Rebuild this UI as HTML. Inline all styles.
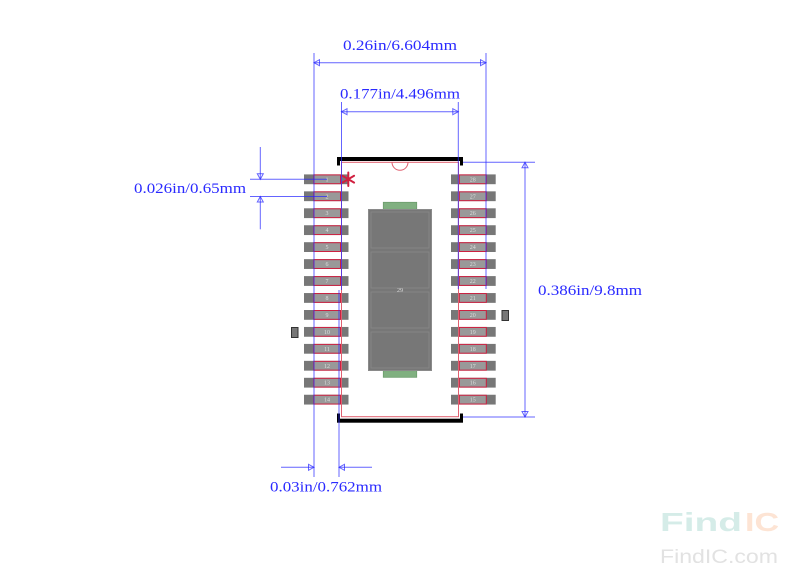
<!DOCTYPE html>
<html><head><meta charset="utf-8"><style>
html,body{margin:0;padding:0;background:#fff;}
svg{display:block;}
</style></head><body>
<svg width="800" height="583" viewBox="0 0 800 583" xmlns="http://www.w3.org/2000/svg">
<rect width="800" height="583" fill="#fff"/>

<!-- watermark -->
<text x="660" y="531" font-family="Liberation Sans, sans-serif" font-weight="bold" font-size="26" fill="#d5ece8" textLength="82" lengthAdjust="spacingAndGlyphs">Find</text>
<text x="745" y="531" font-family="Liberation Sans, sans-serif" font-weight="bold" font-size="26" fill="#fde4d4" textLength="34" lengthAdjust="spacingAndGlyphs">IC</text>
<text x="660" y="563" font-family="Liberation Sans, sans-serif" font-size="19" fill="#e2e2e2" textLength="118" lengthAdjust="spacingAndGlyphs">FindIC.com</text>

<!-- center pad -->
<rect x="383.3" y="202.3" width="33.4" height="7" fill="#80b080" stroke="#6c9c6c" stroke-width="0.8"/>
<rect x="383.3" y="370.7" width="33.4" height="6.6" fill="#80b080" stroke="#6c9c6c" stroke-width="0.8"/>
<rect x="368.5" y="209.5" width="63" height="161" fill="#777" stroke="#8a8a8a" stroke-width="1"/>
<g fill="none" stroke="#858585" stroke-width="1">
<rect x="371" y="212" width="58" height="36"/>
<rect x="371" y="252" width="58" height="36"/>
<rect x="371" y="292" width="58" height="36"/>
<rect x="371" y="332" width="58" height="36"/>
</g>
<text x="400" y="292" font-family="Liberation Serif, serif" font-size="6" fill="#ddd" text-anchor="middle">29</text>

<!-- side markers -->
<rect x="291.5" y="327.5" width="6.5" height="10" fill="#777" stroke="#333" stroke-width="1"/>
<rect x="502" y="310.5" width="6.5" height="10" fill="#777" stroke="#333" stroke-width="1"/>

<!-- pads -->
<g id="pads" font-family="Liberation Serif, serif" font-size="6" fill="#ddd" text-anchor="middle">
</g>

<!-- body outline red -->
<rect x="341.5" y="162.3" width="117" height="254.4" fill="none" stroke="#e06070" stroke-width="1"/>
<path d="M392 162.3 A8 8 0 0 0 408 162.3" fill="none" stroke="#e06070" stroke-width="1"/>

<!-- black outline brackets -->
<g fill="#000">
<rect x="337" y="157" width="126" height="4"/>
<rect x="337" y="157" width="3" height="8.5"/>
<rect x="460" y="157" width="3" height="8.5"/>
<rect x="337" y="418.7" width="126" height="4"/>
<rect x="337" y="413.5" width="3" height="9"/>
<rect x="460" y="413.5" width="3" height="9"/>
</g>

<!-- asterisk -->
<g stroke="#d02040" stroke-width="2" stroke-linecap="round">
<line x1="348.3" y1="172.5" x2="348.3" y2="186"/>
<line x1="342.5" y1="175.8" x2="354.1" y2="182.6"/>
<line x1="342.5" y1="182.6" x2="354.1" y2="175.8"/>
</g>

<!-- dimension lines -->
<g stroke="rgb(40,40,255)" stroke-opacity="0.72" stroke-width="1" fill="none">
<line x1="314" y1="53" x2="314" y2="477"/>
<line x1="486" y1="53" x2="486" y2="289"/>
<line x1="314" y1="62.7" x2="486" y2="62.7"/>
<path d="M314 62.7 L319.5 59.7 L319.5 65.7 Z"/>
<path d="M486 62.7 L480.5 59.7 L480.5 65.7 Z"/>
<line x1="341.5" y1="102" x2="341.5" y2="290"/>
<line x1="458.3" y1="102" x2="458.3" y2="289"/>
<line x1="341.5" y1="111.7" x2="458.3" y2="111.7"/>
<path d="M341.5 111.7 L347 108.7 L347 114.7 Z"/>
<path d="M458.3 111.7 L452.8 108.7 L452.8 114.7 Z"/>
<line x1="339" y1="290" x2="339" y2="477"/>
<line x1="281" y1="467.3" x2="314" y2="467.3"/>
<line x1="339" y1="467.3" x2="372" y2="467.3"/>
<path d="M314 467.3 L308.5 464.3 L308.5 470.3 Z"/>
<path d="M339 467.3 L344.5 464.3 L344.5 470.3 Z"/>
<line x1="250" y1="179.3" x2="327" y2="179.3"/>
<line x1="250" y1="196.5" x2="327" y2="196.5"/>
<line x1="260.3" y1="147" x2="260.3" y2="179.3"/>
<line x1="260.3" y1="196.5" x2="260.3" y2="229.3"/>
<path d="M260.3 179.3 L257.3 173.8 L263.3 173.8 Z"/>
<path d="M260.3 196.5 L257.3 202 L263.3 202 Z"/>
<line x1="463" y1="162.3" x2="535" y2="162.3"/>
<line x1="463" y1="417" x2="535" y2="417"/>
<line x1="525" y1="162.3" x2="525" y2="417"/>
<path d="M525 162.3 L522 167.8 L528 167.8 Z"/>
<path d="M525 417 L522 411.5 L528 411.5 Z"/>
</g>

<!-- dimension text -->
<g font-family="Liberation Serif, serif" font-size="15" fill="#2a2aff">
<text x="343" y="50" textLength="114" lengthAdjust="spacingAndGlyphs">0.26in/6.604mm</text>
<text x="340" y="98.3" textLength="120" lengthAdjust="spacingAndGlyphs">0.177in/4.496mm</text>
<text x="134" y="193" textLength="112" lengthAdjust="spacingAndGlyphs">0.026in/0.65mm</text>
<text x="270" y="491.5" textLength="112" lengthAdjust="spacingAndGlyphs">0.03in/0.762mm</text>
<text x="538" y="295" textLength="104" lengthAdjust="spacingAndGlyphs">0.386in/9.8mm</text>
</g>

<script>
(function(){
  var g=document.getElementById('pads');
  var ns='http://www.w3.org/2000/svg';
  function r(x,y,w,h,f,s){var e=document.createElementNS(ns,'rect');e.setAttribute('x',x);e.setAttribute('y',y);e.setAttribute('width',w);e.setAttribute('height',h);e.setAttribute('fill',f);if(s){e.setAttribute('stroke',s);e.setAttribute('stroke-width','1');}g.appendChild(e);}
  function t(x,y,s){var e=document.createElementNS(ns,'text');e.setAttribute('x',x);e.setAttribute('y',y);e.textContent=s;g.appendChild(e);}
  for(var i=0;i<14;i++){
    var c=179.3+i*16.95;
    r(304,c-4.9,44.5,9.8,'#777');
    r(313.8,c-4.4,26.7,8.8,'#999','#cc2040');
    t(327,c+2,String(i+1));
    r(451,c-4.9,44.7,9.8,'#777');
    r(459.3,c-4.4,27,8.8,'#999','#cc2040');
    t(472.8,c+2,String(28-i));
  }
})();
</script>
</svg>
</body></html>
